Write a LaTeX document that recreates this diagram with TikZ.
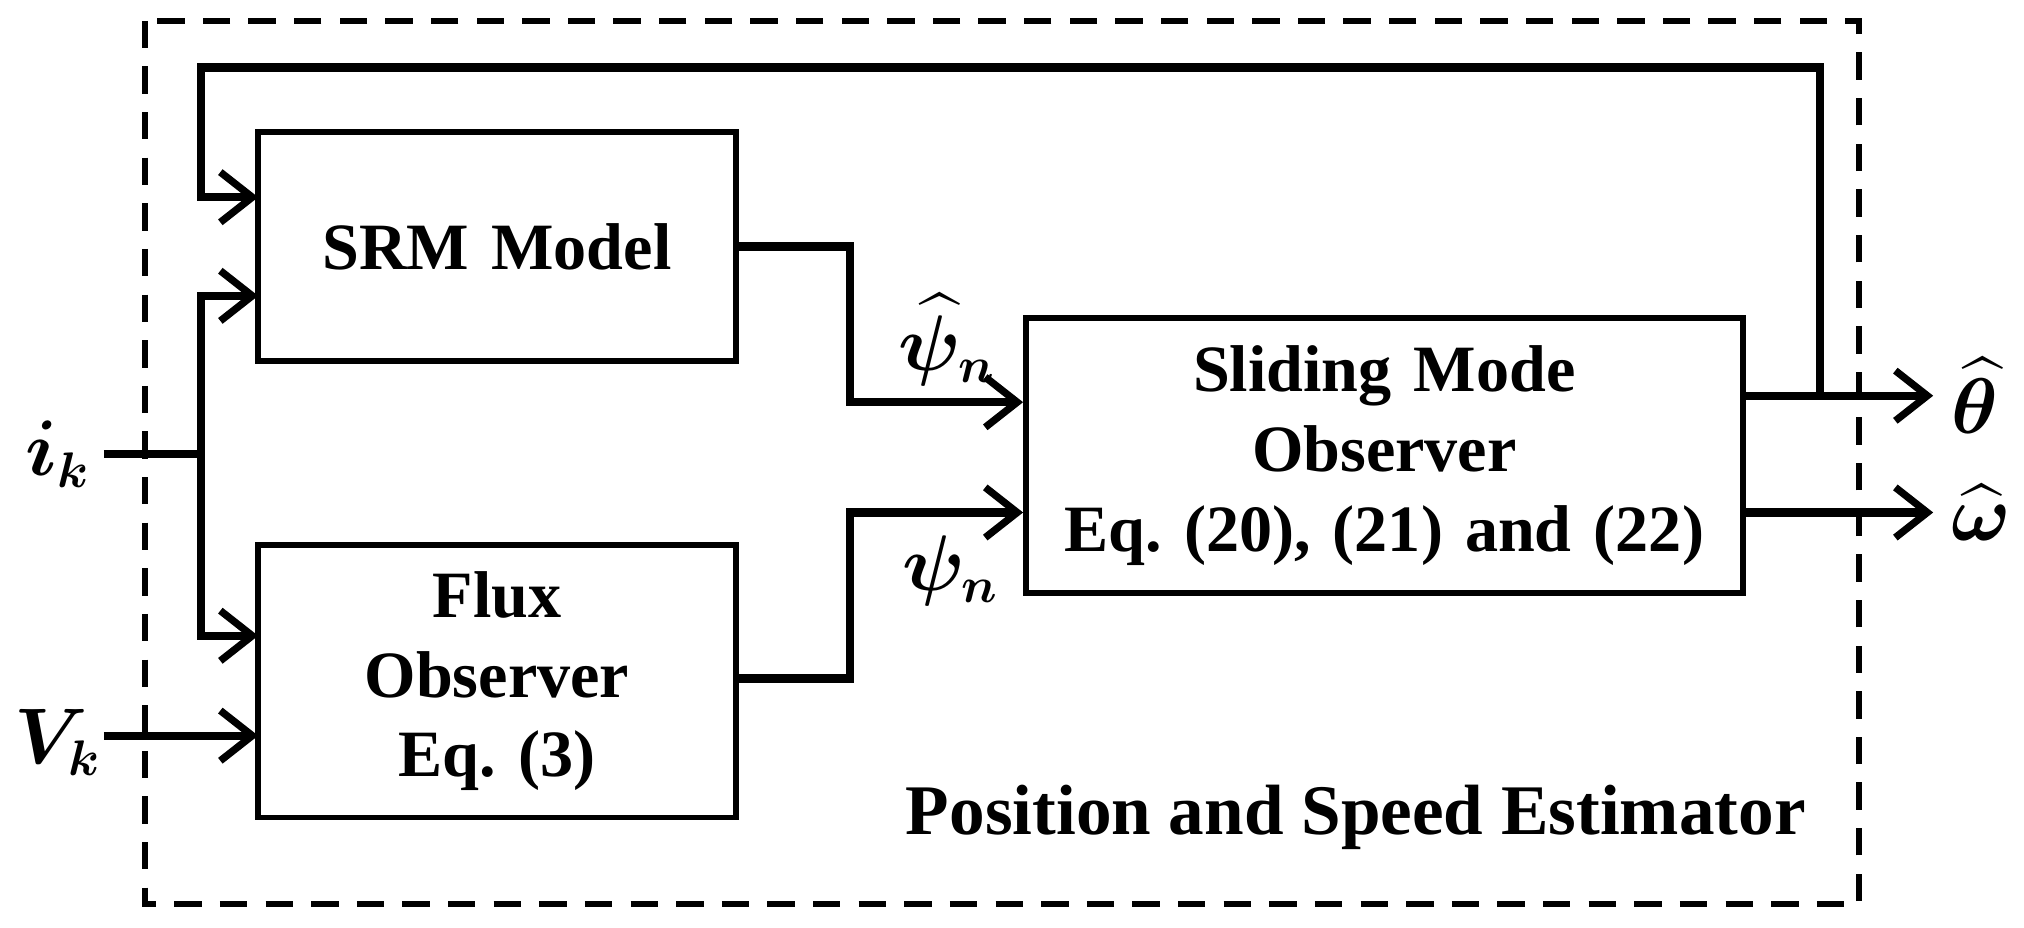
\documentclass[tikz,border=0pt]{standalone}
\usepackage{amsmath,amssymb,bm}
\usepackage{fontspec}
\setmainfont{Liberation Serif}
\usetikzlibrary{arrows.meta}
\frenchspacing
\begin{document}
\begin{tikzpicture}[x=0.01cm,y=-0.01cm,
  blk/.style={draw,line width=1.3pt,inner sep=0pt,font=\fontsize{14.5}{17.5}\selectfont\bfseries,align=center},
  wire/.style={line width=1.8pt},
  arr/.style={wire,-{Straight Barb[length=7pt,width=11pt,line width=1.6pt]}},
  lbl/.style={font=\fontsize{16}{19}\selectfont,inner sep=1pt}]
\useasboundingbox (0,0) rectangle (1560,715);
\draw[dashed,line width=1.3pt,dash pattern=on 6pt off 4pt] (112,16) rectangle (1433,697);
\node[blk,text width=3.6cm,minimum width=3.68cm,minimum height=1.77cm] (srm) at (383,190) {SRM Model};
\node[blk,text width=3.6cm,minimum width=3.68cm,minimum height=2.1cm] (flux) at (383,525) {Flux\\Observer\\Eq. (3)};
\node[blk,text width=5.4cm,minimum width=5.52cm,minimum height=2.12cm] (smo) at (1067,351) {Sliding Mode\\Observer\\Eq. (20), (21) and (22)};
\node[lbl] (ik) at (45,350) {$\bm{i_k}$};
\node[lbl] (vk) at (45,572) {$\bm{V_k}$};
\node[lbl,anchor=west] (th) at (1500,305) {$\widehat{\bm{\theta}}$};
\node[lbl,anchor=west] (om) at (1500,395) {$\widehat{\bm{\omega}}$};
\node[lbl] (psh) at (730,262) {$\widehat{\bm{\psi}}_{\bm n}$};
\node[lbl] (ps) at (733,440) {$\bm{\psi_n}$};
\node[font=\fontsize{15.6}{19}\selectfont\bfseries] (pse) at (1045,630) {Position and Speed Estimator};
\coordinate (j) at (155,350);
\coordinate (fb) at (1403,305);
\draw[wire] (80,350) -- (j);
\draw[arr] (j) |- (199,228);
\draw[arr] (j) |- (199,490);
\draw[arr] (80,567) -- (199,567);
\draw[arr] (srm.east |- 0,190) -- (655,190) |- (smo.west |- 0,310);
\draw[arr] (flux.east |- 0,523) -- (655,523) |- (smo.west |- 0,395);
\draw[arr] (smo.east |- 0,305) -- (1490,305);
\draw[arr] (smo.east |- 0,395) -- (1490,395);
\draw[arr] (fb) -- (1403,52) -- (155,52) |- (199,152);
\end{tikzpicture}
\end{document}
